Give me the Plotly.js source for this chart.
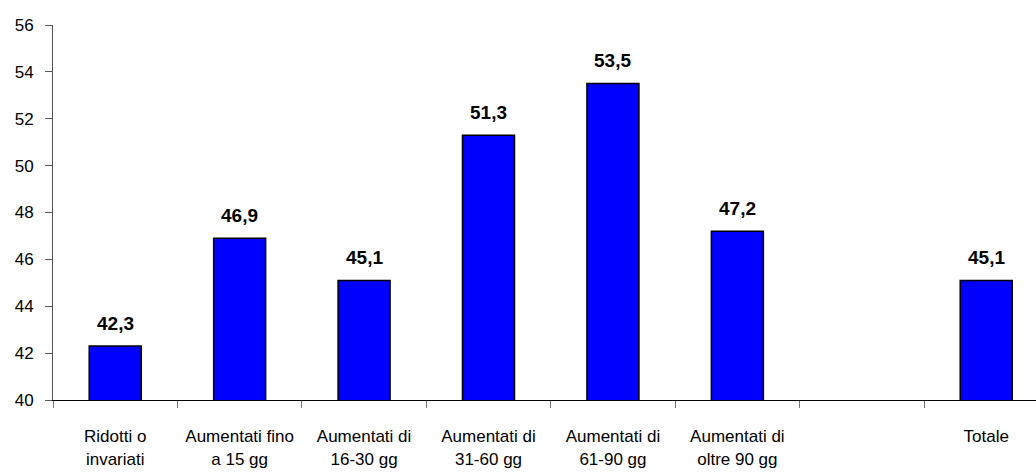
<!DOCTYPE html>
<html><head><meta charset="utf-8">
<script src="https://cdn.plot.ly/plotly-3.0.1.min.js"></script>
<style>html,body{margin:0;padding:0;background:#fff}#c{width:1036px;height:473px}</style>
</head><body><div id="c"></div>
<script>
const categories = ["Ridotti o<br>invariati","Aumentati fino<br>a 15 gg","Aumentati di<br>16-30 gg","Aumentati di<br>31-60 gg","Aumentati di<br>61-90 gg","Aumentati di<br>oltre 90 gg"," ","Totale"];
const values = [42.3, 46.9, 45.1, 51.3, 53.5, 47.2, null, 45.1];
const yTicks = [40,42,44,46,48,50,52,54,56];

const font = "Liberation Sans, Arial, sans-serif";
const trace = {
  type: "bar", x: categories, y: values,
  marker: {color: "#0000FF", line: {color: "#000", width: 1.5}},
  hoverinfo: "none"
};
const annotations = categories.map((c, i) => values[i] == null ? null : ({
  x: c, y: values[i], xref: "x", yref: "y",
  text: "<b>" + values[i].toFixed(1).replace(".", ",") + "</b>",
  showarrow: false, yanchor: "middle", yshift: 23,
  font: {family: font, size: 19, color: "#000"}
})).filter(a => a);

const layout = {
  width: 1036, height: 473,
  margin: {l: 53, r: 0, t: 25, b: 73},
  paper_bgcolor: "#fff", plot_bgcolor: "#fff",
  bargap: 0.582, showlegend: false,
  separators: ",.",
  font: {family: font, size: 17, color: "#000"},
  xaxis: {
    type: "category", categoryorder: "array", categoryarray: categories,
    range: [-0.5, 7.40], tickson: "boundaries",
    ticks: "outside", ticklen: 7, tickcolor: "#777", tickwidth: 1,
    showline: true, linecolor: "#000", linewidth: 1,
    showgrid: false, zeroline: false, ticklabelstandoff: 21,
    tickfont: {family: font, size: 17, color: "#000"}
  },
  yaxis: {
    range: [40, 56], tickvals: yTicks, ticktext: yTicks.map(String),
    ticks: "outside", ticklen: 7, tickcolor: "#555", tickwidth: 1,
    showline: true, linecolor: "#555", linewidth: 1,
    showgrid: false, zeroline: false, ticklabelstandoff: 8,
    tickfont: {family: font, size: 17, color: "#000"}
  },
  annotations: annotations
};
Plotly.newPlot("c", [trace], layout, {staticPlot: true});
</script></body></html>
